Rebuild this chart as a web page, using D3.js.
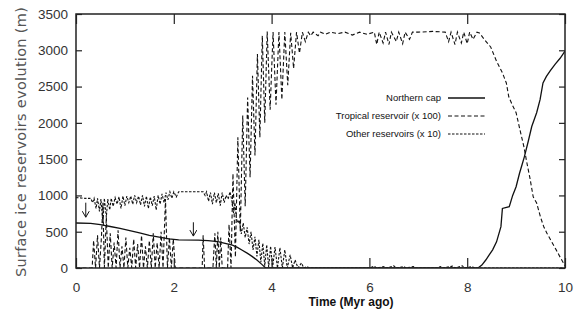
<!DOCTYPE html>
<html>
<head>
<meta charset="utf-8">
<script src="https://d3js.org/d3.v7.min.js"></script>
<style>
    body { margin: 0; background: #fff; }
    text { font-family: "Liberation Sans", Arial, sans-serif; }
    .axis .domain { display: none; }
    .axis line { stroke: #222; stroke-width: 1.2px; }
    .axis text { font-size: 13.5px; fill: #333; }
</style>
</head>
<body>
<svg id="chart" width="576" height="313"></svg>
<script>
// tick values
const xTicks = [0, 2, 4, 6, 8, 10];
const yTicks = [0, 500, 1000, 1500, 2000, 2500, 3000, 3500];
const legendLabels = ["Northern cap", "Tropical reservoir (x 100)", "Other reservoirs (x 10)"];

// [time (Myr ago), height (m)]
const northernCap = [[0,620],[0.3,615],[0.5,598],[0.7,572],[0.9,545],[1.1,515],[1.3,485],[1.5,450],[1.7,425],[1.9,402],
    [2.1,388],[2.5,385],[2.7,378],[2.9,362],[3.05,340],[3.2,315],[3.3,285],[3.4,245],[3.5,205],[3.6,160],[3.7,110],
    [3.8,50],[3.88,0],[8.22,0],[8.3,40],[8.38,110],[8.45,180],[8.52,250],[8.6,360],[8.69,570],[8.72,820],[8.86,845],
    [8.93,1000],[9.0,1120],[9.07,1305],[9.12,1420],[9.17,1535],[9.25,1750],[9.32,1950],[9.42,2140],[9.49,2320],
    [9.55,2550],[9.62,2640],[9.7,2720],[9.8,2810],[9.9,2890],[10,2990]];

const tropical = [[0,0],[0.33,0],[0.36,380],[0.40,0],[0.44,450],[0.48,0],[0.52,420],[0.55,900],[0.58,0],[0.62,700],
    [0.66,0],[0.70,480],[0.74,0],[0.78,350],[0.82,0],[0.86,520],[0.90,0],[0.94,300],[0.98,0],[1.02,420],[1.06,0],
    [1.10,280],[1.14,0],[1.18,400],[1.22,0],[1.26,330],[1.30,0],[1.34,450],[1.38,0],[1.42,300],[1.46,0],[1.50,380],
    [1.54,0],[1.58,480],[1.62,0],[1.66,350],[1.70,0],[1.74,500],[1.78,0],[1.83,950],[1.87,0],[1.91,420],[1.95,0],
    [1.99,400],[2.03,0],[2.58,0],[2.60,450],[2.63,0],[2.80,0],[2.84,480],[2.87,0],[2.90,500],[2.93,0],[2.96,420],
    [2.99,0],[3.10,0],[3.13,600],[3.17,0],[3.21,1300],[3.26,150],[3.31,1800],[3.36,500],[3.41,2100],[3.46,850],
    [3.51,2350],[3.56,1250],[3.61,2650],[3.66,1550],[3.71,2950],[3.76,1800],[3.81,3200],[3.86,2000],[3.91,3260],
    [3.97,2180],[4.03,3250],[4.09,2250],[4.15,3250],[4.21,2320],[4.27,3250],[4.33,2520],[4.39,3240],[4.45,2750],
    [4.51,3250],[4.57,2960],[4.63,3250],[4.69,3120],[4.75,3250],[4.8,3200],[4.85,3250],[4.95,3200],[5.0,3250],
    [5.1,3220],[5.2,3250],[5.35,3230],[5.5,3250],[5.65,3210],[5.8,3250],[5.95,3220],[6.1,3250],[6.15,3080],
    [6.2,3250],[6.28,3100],[6.33,3250],[6.4,3080],[6.45,3250],[6.55,3120],[6.6,3250],[6.68,3090],[6.73,3250],
    [6.82,3150],[6.88,3250],[7.0,3250],[7.3,3260],[7.55,3250],[7.62,3120],[7.67,3250],[7.75,3080],[7.8,3250],
    [7.88,3100],[7.93,3250],[8.0,3090],[8.05,3250],[8.12,3150],[8.2,3250],[8.25,3240],[8.35,3150],[8.48,3045],
    [8.6,2850],[8.72,2690],[8.8,2550],[8.85,2360],[8.92,2250],[9.0,2140],[9.08,1900],[9.16,1670],[9.22,1450],
    [9.28,1250],[9.35,980],[9.42,895],[9.5,700],[9.57,560],[9.63,480],[9.72,370],[9.82,250],[9.9,150],[10,30]];

const otherReservoirs = [[0,970],[0.1,965],[0.2,960],[0.3,960],[0.34,900],[0.37,960],[0.41,820],[0.44,960],
    [0.48,780],[0.51,950],[0.55,620],[0.58,960],[0.62,700],[0.65,950],[0.69,800],[0.72,960],[0.76,850],[0.8,970],
    [0.84,880],[0.88,980],[0.92,820],[0.96,990],[1.0,860],[1.04,990],[1.08,900],[1.12,990],[1.16,880],[1.2,1000],
    [1.24,900],[1.28,990],[1.32,870],[1.36,1000],[1.4,850],[1.44,990],[1.48,820],[1.52,980],[1.56,860],[1.6,990],
    [1.64,800],[1.68,1000],[1.72,880],[1.76,1020],[1.8,900],[1.84,1040],[1.88,940],[1.92,1050],[1.96,960],
    [2.0,1050],[2.05,980],[2.1,1050],[2.6,1050],[2.64,1000],[2.67,1050],[2.71,920],[2.75,1040],[2.79,880],
    [2.83,1040],[2.87,900],[2.91,1030],[2.95,860],[2.99,1040],[3.03,900],[3.07,1000],[3.11,950],[3.15,1050],
    [3.19,920],[3.22,760],[3.25,900],[3.28,680],[3.31,620],[3.34,660],[3.38,470],[3.42,620],[3.46,420],[3.5,560],
    [3.54,330],[3.58,500],[3.62,250],[3.66,430],[3.7,160],[3.74,390],[3.78,80],[3.82,340],[3.86,30],[3.9,320],
    [3.94,10],[3.98,300],[4.02,0],[4.07,290],[4.12,0],[4.17,280],[4.22,0],[4.27,250],[4.32,0],[4.38,180],[4.43,0],
    [4.48,110],[4.54,0],[4.61,70],[4.66,0],[4.72,20],[4.78,0],[6.0,0],[6.1,25],[6.15,0],[6.3,20],[6.35,0],[6.5,30],
    [6.55,0],[6.7,20],[6.75,0],[6.9,20],[6.95,0],[7.4,0],[7.45,20],[7.5,0],[7.7,25],[7.75,0],[7.9,30],[7.95,0],
    [8.1,20],[8.15,0],[10,0]];

// the two down arrows: time, start and end height
const arrowTimes = [0.2, 2.4];
const arrowFrom = [900, 630];
const arrowTo = [700, 440];

const svg = d3.select("#chart");
const x = d3.scaleLinear().domain([0, 10]).range([76, 565]);
const y = d3.scaleLinear().domain([0, 3500]).range([268, 14]);
const line = d3.line().x(d => x(d[0])).y(d => y(d[1]));

svg.append("defs").append("clipPath").attr("id", "plot")
    .append("rect").attr("x", 76).attr("y", 14).attr("width", 489).attr("height", 254);

svg.append("defs").append("marker")
    .attr("id", "arrow").attr("markerUnits", "userSpaceOnUse")
    .attr("viewBox", "-7 -4 8 8").attr("refX", 0).attr("refY", 0)
    .attr("markerWidth", 8).attr("markerHeight", 8).attr("orient", "auto")
    .append("path").attr("d", "M-6,-3.5L0,0L-6,3.5")
    .attr("fill", "none").attr("stroke", "#111").attr("stroke-width", 1);

const styles = [
    { data: northernCap, dash: null, width: 1.3 },
    { data: tropical, dash: "4,2.5", width: 1.1 },
    { data: otherReservoirs, dash: "2.5,1.5", width: 1.1 }
];

const plot = svg.append("g").attr("clip-path", "url(#plot)");
plot.selectAll("path.series").data(styles)
    .join("path")
    .attr("class", "series")
    .attr("d", d => line(d.data))
    .attr("fill", "none")
    .attr("stroke", "#111")
    .attr("stroke-width", d => d.width)
    .attr("stroke-dasharray", d => d.dash);

svg.selectAll("line.arrow").data(arrowTimes)
    .join("line")
    .attr("class", "arrow")
    .attr("x1", d => x(d)).attr("x2", d => x(d))
    .attr("y1", (d, i) => y(arrowFrom[i]))
    .attr("y2", (d, i) => y(arrowTo[i]))
    .attr("stroke", "#111").attr("stroke-width", 1)
    .attr("marker-end", "url(#arrow)");

// axes with inward ticks on all four sides
svg.append("g").attr("class", "axis").attr("transform", "translate(76,0)")
    .call(d3.axisLeft(y).tickValues(yTicks).tickSize(-6).tickPadding(8).tickFormat(d3.format("d")));
svg.append("g").attr("class", "axis").attr("transform", "translate(565,0)")
    .call(d3.axisRight(y).tickValues(yTicks).tickSize(-6).tickFormat(""));
svg.append("g").attr("class", "axis").attr("transform", "translate(0,268)")
    .call(d3.axisBottom(x).tickValues(xTicks).tickSize(-10).tickPadding(14).tickFormat(d3.format("d")));
svg.append("g").attr("class", "axis").attr("transform", "translate(0,14)")
    .call(d3.axisTop(x).tickValues(xTicks).tickSize(-10).tickFormat(""));

svg.append("rect")
    .attr("x", 76).attr("y", 14).attr("width", 489).attr("height", 254)
    .attr("fill", "none").attr("stroke", "#222").attr("stroke-width", 1.5);

svg.append("text")
    .attr("transform", "translate(21,142) rotate(-90)")
    .attr("text-anchor", "middle").attr("dominant-baseline", "central")
    .style("font-family", "'DejaVu Sans', sans-serif")
    .style("font-size", "14.5px").style("letter-spacing", "0.3px").style("fill", "#555")
    .text("Surface ice reservoirs evolution (m)");

svg.append("text")
    .attr("x", 351).attr("y", 306)
    .attr("text-anchor", "middle")
    .style("font-size", "12px").style("font-weight", "bold").style("fill", "#111")
    .text("Time (Myr ago)");

const legend = svg.selectAll("g.legend").data(legendLabels)
    .join("g")
    .attr("class", "legend")
    .attr("transform", (d, i) => `translate(441,${97 + i * 18})`);
legend.append("text")
    .attr("text-anchor", "end").attr("dominant-baseline", "central")
    .style("font-size", "9.5px").style("fill", "#111")
    .text(d => d);
legend.append("line")
    .attr("x1", 7).attr("x2", 44).attr("y1", 1).attr("y2", 1)
    .attr("stroke", "#111").attr("stroke-width", (d, i) => styles[i].width)
    .attr("stroke-dasharray", (d, i) => styles[i].dash);
</script>
</body>
</html>
